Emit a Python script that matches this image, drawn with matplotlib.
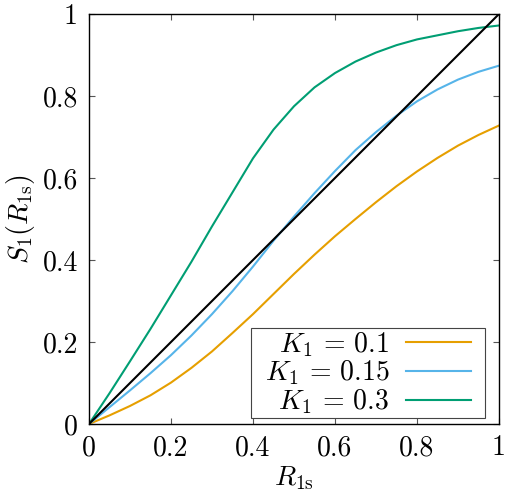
import numpy as np
import matplotlib
matplotlib.use("Agg")
import matplotlib.pyplot as plt
from matplotlib.patches import Rectangle
from matplotlib.ticker import FuncFormatter


# Values
R1s = [0, 0.05, 0.1, 0.15, 0.2, 0.25, 0.3, 0.35, 0.4, 0.45, 0.5,
       0.55, 0.6, 0.65, 0.7, 0.75, 0.8, 0.85, 0.9, 0.95, 1.0]
S_K010 = [0, 0.021, 0.044, 0.07, 0.101, 0.137, 0.177, 0.222, 0.268, 0.317, 0.366,
          0.413, 0.458, 0.5, 0.541, 0.58, 0.616, 0.649, 0.679, 0.705, 0.728]
S_K015 = [0, 0.041, 0.082, 0.124, 0.168, 0.216, 0.268, 0.324, 0.384, 0.447, 0.506,
          0.563, 0.617, 0.668, 0.712, 0.752, 0.787, 0.816, 0.84, 0.859, 0.874]
S_K030 = [0, 0.075, 0.153, 0.232, 0.314, 0.396, 0.482, 0.565, 0.648, 0.718, 0.775,
          0.821, 0.856, 0.884, 0.906, 0.924, 0.938, 0.948, 0.958, 0.966, 0.972]
diag = [0, 1]

labels = [r"$K_1\,=\,0.1$", r"$K_1\,=\,0.15$", r"$K_1\,=\,0.3$"]
colors = ["#E69F00", "#56B4E9", "#009E73"]
ticks = [0, 0.2, 0.4, 0.6, 0.8, 1]

plt.rcParams["font.family"] = "serif"
plt.rcParams["font.serif"] = ["cmr10"]
plt.rcParams["mathtext.fontset"] = "cm"
plt.rcParams["axes.formatter.use_mathtext"] = True
plt.rcParams["font.size"] = 20

fig = plt.figure(figsize=(5.06, 4.91), dpi=100)
ax = fig.add_axes([89 / 506, 67 / 491, 410 / 506, 410 / 491])

for S, lab, c in zip([S_K010, S_K015, S_K030], labels, colors):
    ax.plot(R1s, S, color=c, lw=1.5, label=lab)
ax.plot(diag, diag, color="black", lw=1.5)

ax.set_xlim(0, 1)
ax.set_ylim(0, 1)
ax.set_xticks(ticks)
ax.set_yticks(ticks)
fmt = FuncFormatter(lambda v, p: f"{v:g}")
ax.xaxis.set_major_formatter(fmt)
ax.yaxis.set_major_formatter(fmt)
ax.tick_params(direction="in", length=4, width=0.8, top=True, right=True,
               color="#555555", pad=8, labelsize=20)
for s in ax.spines.values():
    s.set_linewidth(1.0)

ax.set_xlabel(r"$R_{1\mathrm{s}}$", labelpad=2)
ax.set_ylabel(r"$S_1(R_{1\mathrm{s}})$", labelpad=4)

# gnuplot-like key: tight rows, wider side padding -> draw the box by hand
leg = ax.legend(loc="lower right", bbox_to_anchor=(0.932, 0.019), borderaxespad=0,
                markerfirst=False, frameon=False,
                handlelength=2.35, handletextpad=0.6, labelspacing=0.0,
                borderpad=0.0, fontsize=20)
fig.canvas.draw()
bb = leg.get_window_extent(fig.canvas.get_renderer())
padx, pady = 14, 2
fig.patches.append(Rectangle((bb.x0 - padx, bb.y0 - pady), bb.width + 2 * padx,
                             bb.height + 2 * pady, transform=None, fill=False,
                             edgecolor="#444444", lw=0.8, zorder=5))

fig.savefig("out.png", dpi=100)
